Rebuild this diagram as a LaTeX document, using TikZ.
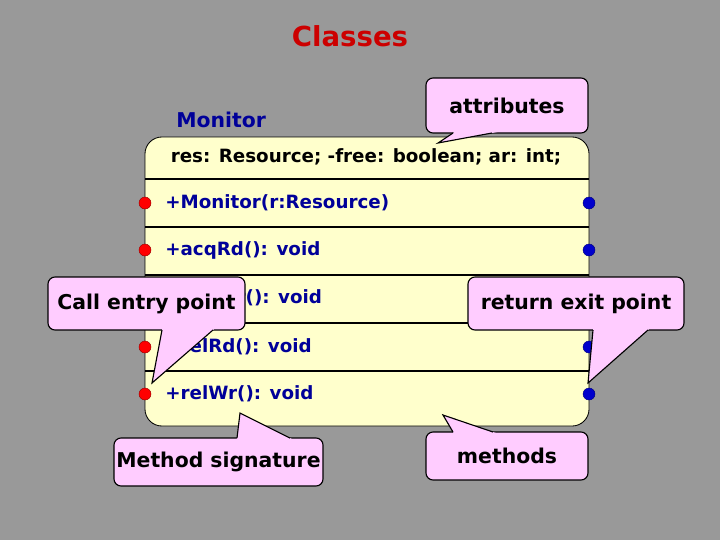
\documentclass[tikz,border=0pt]{standalone}
\usepackage{fontspec}
\setmainfont{DejaVu Sans}
\usetikzlibrary{calc}
\definecolor{bggray}{RGB}{153,153,153}
\definecolor{boxyellow}{RGB}{255,255,204}
\definecolor{calloutpink}{RGB}{255,204,255}
\definecolor{textblue}{RGB}{0,0,153}
\definecolor{titlered}{RGB}{204,0,0}
\definecolor{dotred}{RGB}{255,0,0}
\definecolor{dotblue}{RGB}{0,0,204}
\newcommand\calltail[3]{%
  \fill[calloutpink] (#1) -- ($(#1)!1.2!(#2)$) -- ($(#1)!1.2!(#3)$) -- cycle;
  \draw[line width=0.8pt, line join=miter] (#2) -- (#1) -- (#3);}
\begin{document}
\begin{tikzpicture}[x=0.025cm,y=-0.025cm,
  callout/.style={draw=black, line width=0.8pt, fill=calloutpink, rounded corners=5pt,
    inner sep=0pt, font=\fontsize{14.5}{16}\selectfont\bfseries},
  rowtext/.style={anchor=west, text=textblue, inner sep=0pt, font=\fontsize{13}{15}\selectfont\bfseries},
  sepline/.style={line width=2pt, black},
  reddot/.style={circle, fill=dotred, draw=red!60!black, line width=0.3pt, minimum size=0.3cm, inner sep=0pt},
  bluedot/.style={circle, fill=dotblue, draw=blue!50!black, line width=0.3pt, minimum size=0.3cm, inner sep=0pt}]
\fill[bggray] (0,0) rectangle (720,540);
\useasboundingbox (0,0) rectangle (720,540);

% title
\node[text=titlered, font=\fontsize{19.6}{23}\selectfont\bfseries] (title) at (350,36) {Classes};
\node[anchor=west, text=textblue, inner sep=0pt, font=\fontsize{14.5}{16}\selectfont\bfseries] (clsname) at (176,120) {Monitor};

% class box
\node[draw=black, line width=0.6pt, fill=boxyellow, rounded corners=12pt,
      minimum width=444*0.025cm, minimum height=289*0.025cm, inner sep=0pt] (cls) at (367,281.5) {};
\node[inner sep=0pt, font=\fontsize{13}{15}\selectfont\bfseries] (attrs) at (366,157) {res: Resource; -free: boolean; ar: int;};
\foreach \yy in {179,227,275,323,371} \draw[sepline] (145,\yy) -- (589,\yy);

\node[rowtext] (m1) at (165,203) {+Monitor(r:Resource)};
\node[rowtext] (m2) at (165,250) {+acqRd(): void};
\node[rowtext] (m3) at (165,298) {+acqWr(): void};
\node[rowtext] (m4) at (165,347) {+relRd(): void};
\node[rowtext] (m5) at (165,394) {+relWr(): void};

\foreach \yy [count=\i] in {203,250,298,347,394} {
  \node[reddot] (in\i) at (145,\yy) {};
  \node[bluedot] (out\i) at (589,\yy) {};
}

% callouts
\node[callout, minimum width=162*0.025cm, minimum height=55*0.025cm] (cattr) at (507,105.5) {attributes};
\calltail{438,143}{453,133}{492,133}

\node[callout, minimum width=197*0.025cm, minimum height=53*0.025cm] (centry) at (146.5,303.5) {Call entry point};
\calltail{152,383}{162,330}{213,330}

\node[callout, minimum width=216*0.025cm, minimum height=53*0.025cm] (cexit) at (576,303.5) {return exit point};
\calltail{588,383}{593,330}{648,330}

\node[callout, minimum width=209*0.025cm, minimum height=48*0.025cm] (csig) at (218.5,462) {Method signature};
\calltail{240,413}{237,438}{290,438}

\node[callout, minimum width=162*0.025cm, minimum height=48*0.025cm] (cmeth) at (507,456) {methods};
\calltail{443,415}{453,432}{493,432}
\end{tikzpicture}
\end{document}
